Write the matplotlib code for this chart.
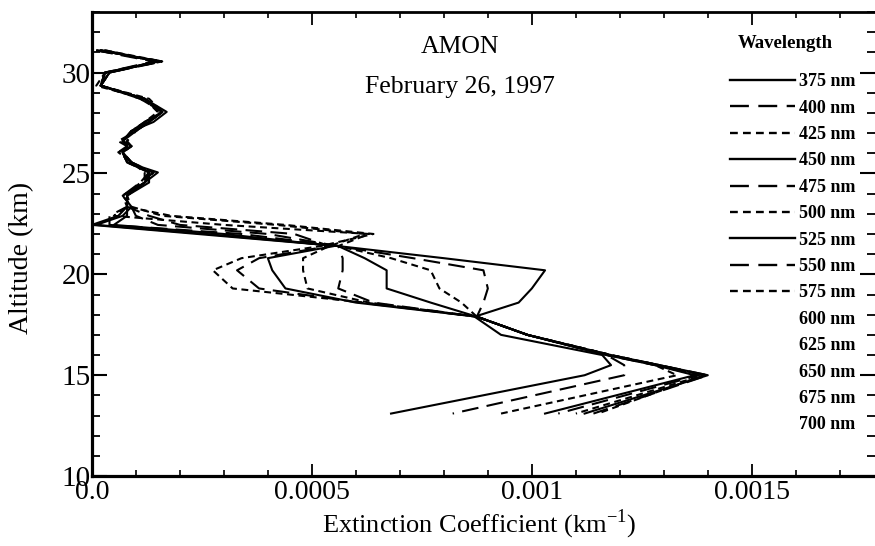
import matplotlib
matplotlib.use('Agg')
import matplotlib.pyplot as plt
from matplotlib.lines import Line2D
from matplotlib.ticker import MultipleLocator

plt.rcParams['font.family'] = ['Liberation Serif', 'DejaVu Serif']

# altitude grid (km)
alt = [31.1, 30.55, 30.0, 29.35, 28.7, 28.05, 27.55, 27.1, 26.6, 26.35,
       26.05, 25.55, 25.05, 24.55, 23.9, 23.35, 22.9, 22.45, 22.0, 21.4,
       20.8, 20.2, 19.3, 18.6, 17.9, 17.0, 16.0, 15.5, 15.0, 13.1]

# extinction coefficient, units of 1e-4 km^-1
ext_375 = [0.2, 1.5, 0.4, 0.2, 1.2, 1.6, 1.3, 0.9, 0.7, 0.8, 0.7, 0.8, 1.3, 1.2, 0.8,
           0.8, 0.6, 0.0, 2.4, 5.6, 8.0, 10.3, 10.0, 9.7, 8.7, 9.3, 11.6, 11.8, 11.2, 6.8]
ext_400 = [0.1, 1.4, 0.3, 0.2, 1.1, 1.6, 1.2, 0.9, 0.7, 0.9, 0.6, 0.9, 1.4, 1.1, 0.7,
           0.8, 0.4, 0.4, 3.4, 5.6, 7.3, 8.9, 9.0, 8.9, 8.75, 9.9, 11.7, 12.1, 12.1, 8.2]
ext_425 = [0.3, 1.6, 0.3, 0.1, 1.2, 1.5, 1.3, 1.0, 0.6, 0.8, 0.7, 0.9, 1.2, 1.2, 0.8,
           0.8, 0.5, 3.0, 6.3, 5.6, 6.8, 7.7, 7.9, 8.4, 8.75, 9.9, 11.8, 12.8, 13.3, 9.3]
ext_450 = [0.2, 1.5, 0.4, 0.2, 1.2, 1.7, 1.4, 0.9, 0.7, 0.9, 0.7, 0.8, 1.5, 1.2, 0.7,
           0.9, 0.7, 0.1, 2.6, 5.6, 6.2, 6.7, 6.7, 7.7, 8.75, 9.9, 11.7, 12.8, 13.7, 10.3]
ext_475 = [0.1, 1.6, 0.3, 0.2, 1.1, 1.6, 1.3, 1.0, 0.8, 0.8, 0.6, 0.9, 1.3, 1.1, 0.8,
           0.9, 1.0, 1.5, 4.0, 5.6, 5.7, 5.7, 5.6, 6.4, 8.75, 9.9, 11.7, 12.8, 13.8, 10.6]
ext_500 = [0.2, 1.5, 0.4, 0.2, 1.3, 1.6, 1.2, 0.9, 0.7, 0.9, 0.7, 0.8, 1.4, 1.2, 0.7,
           0.9, 1.6, 4.2, 6.2, 5.4, 4.8, 4.8, 4.9, 6.3, 8.75, 9.9, 11.7, 12.9, 13.9, 11.0]
ext_525 = [0.3, 1.5, 0.3, 0.2, 1.2, 1.6, 1.3, 1.0, 0.7, 0.8, 0.7, 0.9, 1.3, 1.3, 0.8,
           0.8, 0.8, 0.5, 3.0, 5.5, 4.0, 4.1, 4.4, 6.0, 8.75, 9.9, 11.8, 12.9, 14.0, 11.2]
ext_550 = [0.1, 1.6, 0.4, 0.2, 1.2, 1.6, 1.3, 0.9, 0.8, 0.9, 0.7, 0.9, 1.4, 1.1, 0.8,
           0.8, 1.3, 2.0, 4.6, 5.4, 3.8, 3.3, 3.8, 6.1, 8.75, 9.9, 11.8, 12.9, 14.0, 11.4]
ext_575 = [0.2, 1.5, 0.3, 0.2, 1.2, 1.5, 1.2, 0.9, 0.7, 0.8, 0.7, 0.8, 1.3, 1.2, 0.8,
           0.8, 1.8, 4.4, 6.4, 5.2, 3.4, 2.75, 3.2, 6.2, 8.75, 9.9, 11.8, 12.9, 13.9, 11.5]

wavelengths = ['375 nm', '400 nm', '425 nm', '450 nm', '475 nm', '500 nm', '525 nm',
               '550 nm', '575 nm', '600 nm', '625 nm', '650 nm', '675 nm', '700 nm']
profiles = [ext_375, ext_400, ext_425, ext_450, ext_475, ext_500, ext_525, ext_550, ext_575]

solid = '-'
long_dash = (0, (8, 4))
short_dash = (0, (3.3, 2.2))
styles = [solid, long_dash, short_dash] * 3

fig = plt.figure(figsize=(8.75, 5.46), dpi=100)
ax = fig.add_axes([0.105, 0.128, 0.895, 0.85])

for prof, ls in zip(profiles, styles):
    ax.plot([v * 1e-4 for v in prof], alt, color='black', lw=1.5, linestyle=ls)

ax.set_xlim(0, 0.00178)
ax.set_ylim(10, 33)
ax.xaxis.set_minor_locator(MultipleLocator(0.0001))
ax.yaxis.set_major_locator(MultipleLocator(5))
ax.yaxis.set_minor_locator(MultipleLocator(1))
ax.set_xticks([0, 0.0005, 0.001, 0.0015])
ax.set_xticklabels(['0.0', '0.0005', '0.001', '0.0015'])

ax.tick_params(axis='x', which='major', direction='in', length=9, width=1.3,
               top=True, labelsize=20, pad=3)
ax.tick_params(axis='x', which='minor', direction='in', length=4.5, width=1.2, top=True)
ax.tick_params(axis='y', which='major', direction='in', length=11, width=1.5,
               right=True, labelsize=21, pad=1)
ax.tick_params(axis='y', which='minor', direction='in', length=5.5, width=1.3, right=True)

ax.spines['left'].set_linewidth(2.3)
ax.spines['bottom'].set_linewidth(2.3)
ax.spines['top'].set_linewidth(2.0)
ax.spines['right'].set_visible(False)

ax.set_xlabel('Extinction Coefficient (km$^{\\mathregular{-1}}$)', fontsize=19)
ax.xaxis.set_label_coords(0.494, -0.068)
ax.set_ylabel('Altitude (km)', fontsize=20)
ax.yaxis.set_label_coords(-0.074, 0.47)

ax.text(0.47, 0.924, 'AMON', transform=ax.transAxes, ha='center', va='center', fontsize=18.5)
ax.text(0.47, 0.838, 'February 26, 1997', transform=ax.transAxes, ha='center',
        va='center', fontsize=18.5)
ax.text(0.825, 0.933, 'Wavelength', transform=ax.transAxes, ha='left', va='center',
        fontsize=13.5, fontweight='bold')

handles = [Line2D([], [], color='black', lw=1.7, linestyle=ls) for ls in styles]
handles += [Line2D([], [], linestyle='none') for _ in wavelengths[9:]]
leg = ax.legend(handles, wavelengths, loc='upper left',
                bbox_to_anchor=(0.815, 0.868), frameon=False, handlelength=3.6,
                handletextpad=0.2, labelspacing=0.52, borderaxespad=0, borderpad=0,
                prop={'size': 13, 'weight': 'bold'})

fig.savefig('out.png', dpi=100)
